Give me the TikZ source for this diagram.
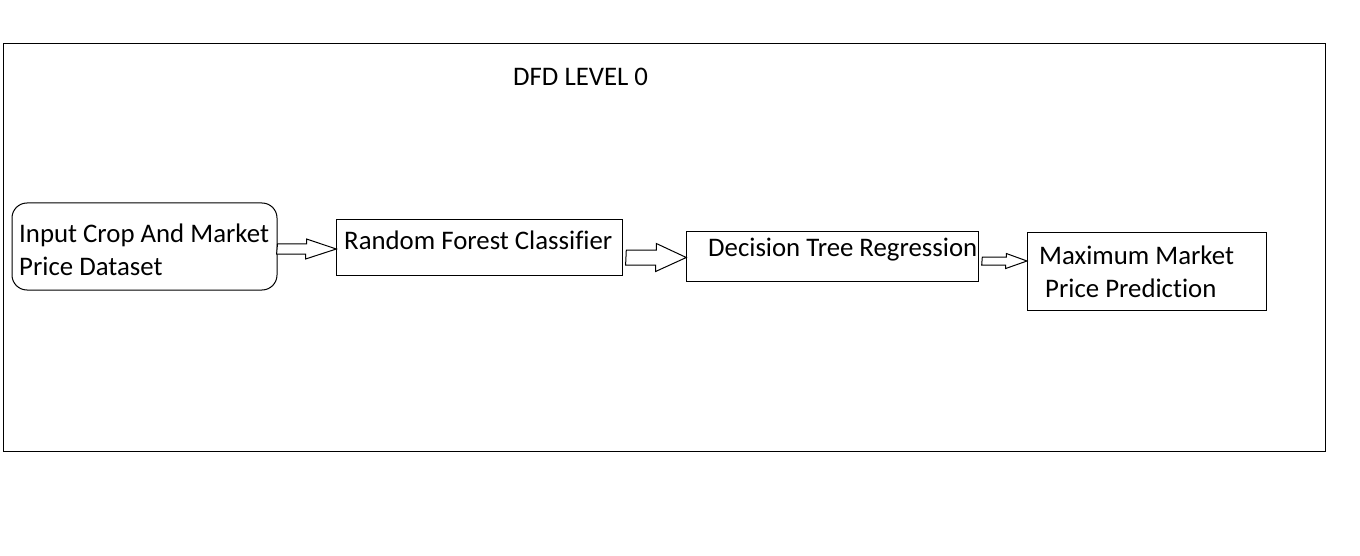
\documentclass[tikz,border=0pt]{standalone}
\usepackage{fontspec}
\setmainfont{Carlito}[Ligatures={NoCommon}]
\usetikzlibrary{calc}

\begin{document}
\begin{tikzpicture}[x=1pt, y=-1pt]
    % Styles
    \tikzstyle{box} = [rectangle, draw=black, line width=1pt, inner sep=0pt]
    \tikzstyle{roundbox} = [box, rounded corners=15pt]
    \tikzstyle{txt} = [anchor=base west, inner sep=0pt, font=\fontsize{26.8}{32}\selectfont]
    \tikzstyle{blockarrow} = [draw=black, line width=1pt, fill=white]

    \useasboundingbox (0,0) rectangle (1360,556);
    \draw[line width=1pt] (3,44) rectangle (1325,451);

    % Title
    \node[txt] (title) at (513,86) {DFD LEVEL 0};

    % Boxes
    \node[roundbox, minimum width=265, minimum height=87] (dataset) at (144.5,246.5) {};
    \node[box, minimum width=286, minimum height=56] (classifier) at (479.8,247.2) {};
    \node[box, minimum width=292, minimum height=50] (regression) at (832.8,256.7) {};
    \node[box, minimum width=239, minimum height=78] (prediction) at (1147,271.2) {};

    % Texts
    \node[txt] (dataset1) at (19,243) {Input Crop And Market};
    \node[txt] (dataset2) at (19,275.5) {Price Dataset};
    \node[txt] (classifiertxt) at (344,250) {Random Forest Classifier};
    \node[txt] (regressiontxt) at (708,257) {Decision Tree Regression};
    \node[txt] (prediction1) at (1039,264) {Maximum Market};
    \node[txt] (prediction2) at (1045,297) {Price Prediction};

    % Arrows
    \draw[blockarrow] (dataset.east |- 0,249) ++(0,-5) -- ++(29,0) -- ++(0,-5) -- (classifier.west |- 0,249) -- ++(-30.7,10) -- ++(0,-5) -- ++(-29,0) -- cycle;
    \draw[blockarrow] (classifier.east |- 0,257.5) ++(3,-7.5) -- ++(30,0) -- ++(0,-6.5) -- (regression.west |- 0,257.5) -- ++(-30.7,14) -- ++(0,-6.5) -- ++(-30,0) -- cycle;
    \draw[blockarrow] (regression.east |- 0,261) ++(3,-4) -- ++(24,0) -- ++(0,-3.5) -- (prediction.west |- 0,261) -- ++(-21.3,7.5) -- ++(0,-3.5) -- ++(-24,0) -- cycle;
\end{tikzpicture}
\end{document}
